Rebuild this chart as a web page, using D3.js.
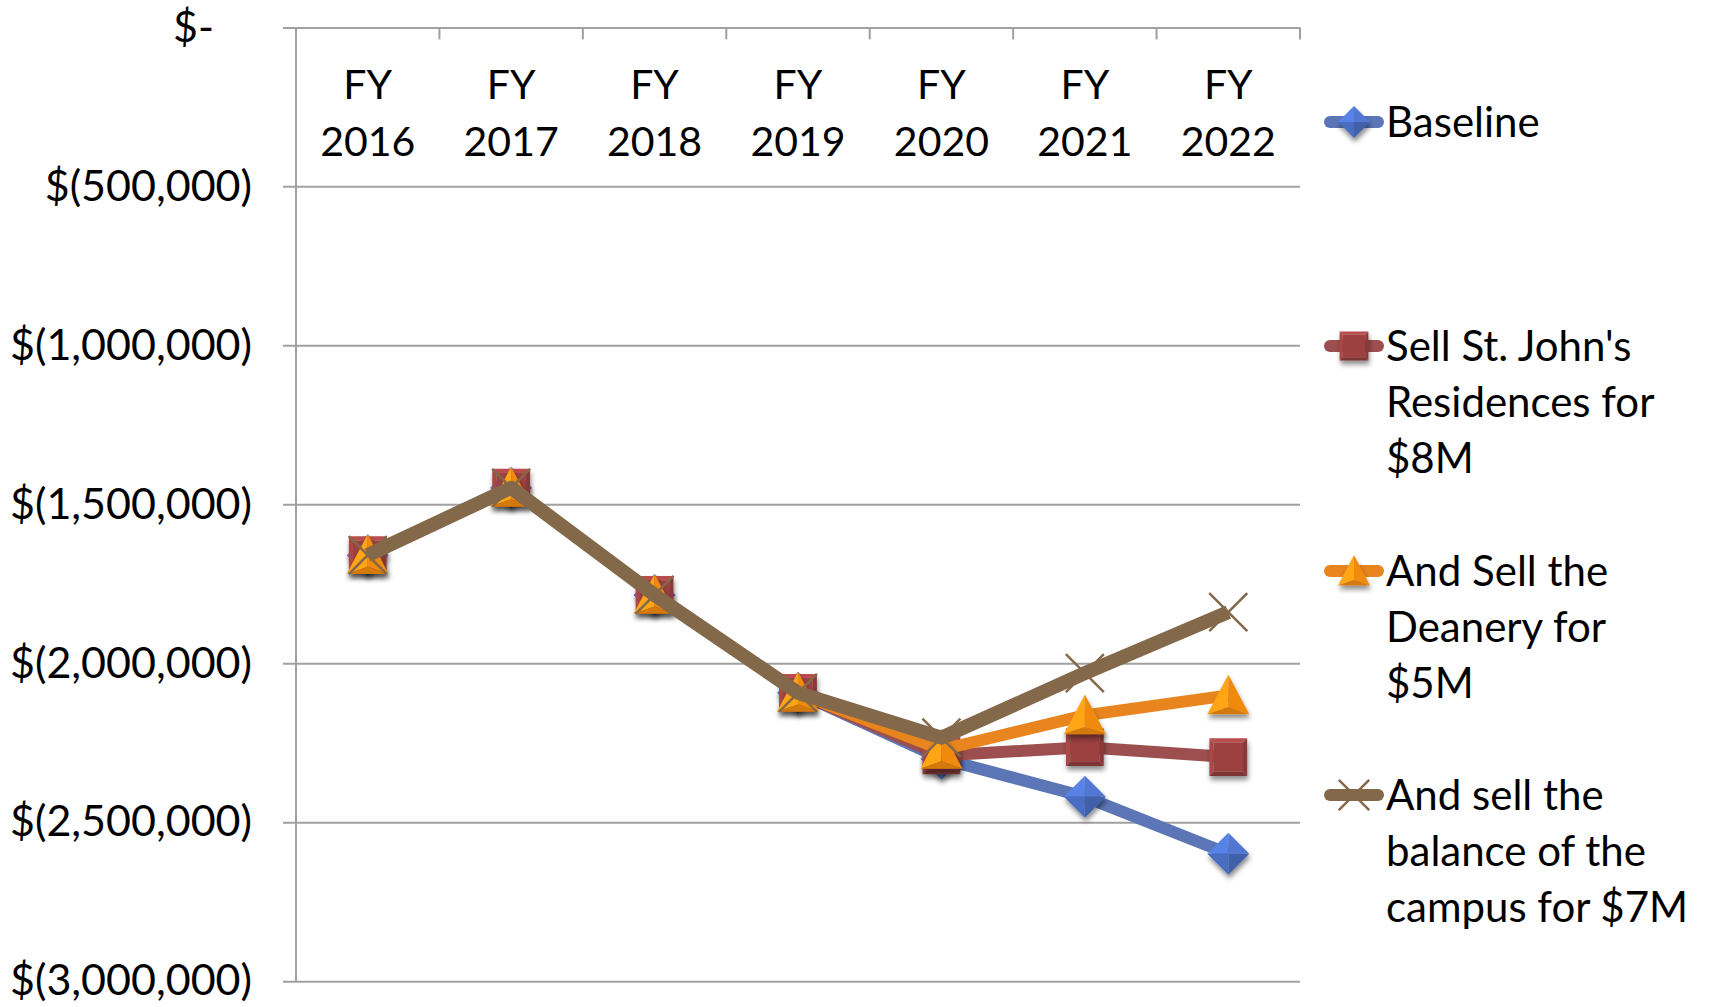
<!DOCTYPE html>
<html>
<head>
<meta charset="utf-8">
<script src="https://cdn.jsdelivr.net/npm/d3@7"></script>
<style>
  body { margin: 0; background: #fff; }
  text { font-family: Lato, "Open Sans", sans-serif; fill: #000; }
</style>
</head>
<body>
<script>
// chart values
var years = ["FY 2016", "FY 2017", "FY 2018", "FY 2019", "FY 2020", "FY 2021", "FY 2022"];
var baseline    = [-1660000, -1448000, -1785000, -2093000, -2300000, -2420000, -2599000];
var sellStJohns = [-1660000, -1448000, -1785000, -2093000, -2290000, -2264000, -2295000];
var sellDeanery = [-1660000, -1448000, -1785000, -2093000, -2272000, -2164000, -2101000];
var sellBalance = [-1660000, -1448000, -1785000, -2093000, -2234000, -2031000, -1839000];
var seriesNames = [
  ["Baseline"],
  ["Sell St. John's", "Residences for", "$8M"],
  ["And Sell the", "Deanery for", "$5M"],
  ["And sell the", "balance of the", "campus for $7M"]
];
var yTicks = [0, -500000, -1000000, -1500000, -2000000, -2500000, -3000000];

var width = 1719, height = 1007;
var plotLeft = 296, plotRight = 1300, plotTop = 27.4, plotBottom = 981.2;

var svg = d3.select("body").append("svg")
    .attr("width", width)
    .attr("height", height);

var defs = svg.append("defs");
defs.append("filter")
    .attr("id", "shadow")
    .attr("x", "-50%").attr("y", "-50%").attr("width", "200%").attr("height", "200%")
  .append("feDropShadow")
    .attr("dx", 1).attr("dy", 4)
    .attr("stdDeviation", 2.5)
    .attr("flood-color", "#000")
    .attr("flood-opacity", 0.45);

var x = d3.scaleBand().domain(years).range([plotLeft, plotRight]);
var y = d3.scaleLinear().domain([-3000000, 0]).range([plotBottom, plotTop]);

// grid + value labels
var fmt = d3.format(",");
var yAxis = svg.append("g")
    .attr("transform", "translate(" + plotRight + ",0)")
    .call(d3.axisLeft(y)
        .tickValues(yTicks)
        .tickSize(plotRight - plotLeft + 13)
        .tickPadding(31)
        .tickFormat(function(d) { return d == 0 ? "$-" : "$(" + fmt(-d) + ")"; }));
yAxis.select(".domain").remove();
yAxis.selectAll(".tick line").attr("stroke", "#a0a0a0").attr("stroke-width", 2);
yAxis.selectAll(".tick text")
    .attr("font-size", 43)
    .attr("dx", function(d) { return d == 0 ? -38 : 0; });

// vertical axis line
svg.append("line")
    .attr("x1", plotLeft).attr("x2", plotLeft)
    .attr("y1", plotTop).attr("y2", plotBottom)
    .attr("stroke", "#a0a0a0").attr("stroke-width", 2);

// category ticks at band edges on the top line
svg.append("g").selectAll("line")
  .data(years)
  .enter().append("line")
    .attr("x1", function(d) { return x(d) + x.bandwidth(); })
    .attr("x2", function(d) { return x(d) + x.bandwidth(); })
    .attr("y1", plotTop).attr("y2", plotTop + 12)
    .attr("stroke", "#a0a0a0").attr("stroke-width", 2);

// category labels
var xAxis = svg.append("g")
    .attr("transform", "translate(0," + plotTop + ")")
    .call(d3.axisBottom(x).tickSize(0).tickPadding(0));
xAxis.select(".domain").remove();
xAxis.selectAll(".tick text").each(function(d) {
  var t = d3.select(this).text("").attr("font-size", 41).attr("y", 0).attr("dy", null);
  var parts = d.split(" ");
  t.append("tspan").attr("x", 0).attr("y", 72).text(parts[0]);
  t.append("tspan").attr("x", 0).attr("y", 129).text(parts[1]);
});

var series = [
  {values: baseline,    line: "#5b75b6", mark: "#4a6dc0", shape: "diamond", width: 12},
  {values: sellStJohns, line: "#9d4f4f", mark: "#9c4141", shape: "square",  width: 12},
  {values: sellDeanery, line: "#e8851f", mark: "#f08a10", shape: "triangle", width: 12},
  {values: sellBalance, line: "#84684a", mark: "#84684a", shape: "x", width: 14}
];

var line = d3.line()
    .x(function(d, i) { return x(years[i]) + x.bandwidth() / 2; })
    .y(function(d) { return y(d); });

// beveled marker shapes
function marker(g, shape, c, cx, cy, r) {
  var base = d3.color(c);
  var light = base.brighter(0.5), lighter = base.brighter(0.25), dark = base.darker(0.35), darker = base.darker(0.6);
  var m = g.append("g").attr("transform", "translate(" + cx + "," + cy + ")")
      .attr("filter", shape == "x" ? null : "url(#shadow)");
  function poly(pts, col) {
    m.append("polygon").attr("points", pts.map(function(p) { return p.join(","); }).join(" ")).attr("fill", col);
  }
  if (shape == "diamond") {
    poly([[0,0],[0,-r],[-r,0]], light);
    poly([[0,0],[0,-r],[r,0]], lighter);
    poly([[0,0],[r,0],[0,r]], dark);
    poly([[0,0],[0,r],[-r,0]], base);
  } else if (shape == "square") {
    var s = r * 0.9, b = r * 0.7;
    poly([[-s,-s],[s,-s],[b,-b],[-b,-b]], light);
    poly([[-s,-s],[-b,-b],[-b,b],[-s,s]], lighter);
    poly([[s,-s],[s,s],[b,b],[b,-b]], dark);
    poly([[-s,s],[-b,b],[b,b],[s,s]], darker);
    poly([[-b,-b],[b,-b],[b,b],[-b,b]], base);
  } else if (shape == "triangle") {
    var h = r * 1.0;
    poly([[0,-h],[-r,h*0.9],[0,h*0.55]], light);
    poly([[0,-h],[r,h*0.9],[0,h*0.55]], base);
    poly([[-r,h*0.9],[r,h*0.9],[0,h*0.55]], dark);
  } else {
    var k = r * 0.95;
    m.append("path").attr("d", "M" + (-k) + "," + (-k) + "L" + k + "," + k + "M" + k + "," + (-k) + "L" + (-k) + "," + k)
      .attr("stroke", c).attr("stroke-width", 2.5);
  }
}

series.forEach(function(s) {
  svg.append("path")
      .datum(s.values)
      .attr("fill", "none")
      .attr("stroke", s.line)
      .attr("stroke-width", s.width)
      .attr("stroke-linejoin", "round")
      .attr("d", line);
  var g = svg.append("g");
  s.values.forEach(function(v, i) {
    marker(g, s.shape, s.mark, x(years[i]) + x.bandwidth() / 2, y(v), s.shape == "x" ? 20 : 21);
  });
});

// legend
var legendY = [122, 346, 571, 795];
var legend = svg.append("g");
series.forEach(function(s, i) {
  legend.append("line")
      .attr("x1", 1330).attr("x2", 1378)
      .attr("y1", legendY[i]).attr("y2", legendY[i])
      .attr("stroke", s.line).attr("stroke-width", 12)
      .attr("stroke-linecap", "round");
  marker(legend, s.shape, s.mark, 1354, legendY[i], 16);
  var t = legend.append("text")
      .attr("font-size", 42)
      .attr("x", 1386);
  seriesNames[i].forEach(function(ln, j) {
    t.append("tspan").attr("x", 1386).attr("y", legendY[i] + 15 + j * 56).text(ln);
  });
});
</script>
</body>
</html>
